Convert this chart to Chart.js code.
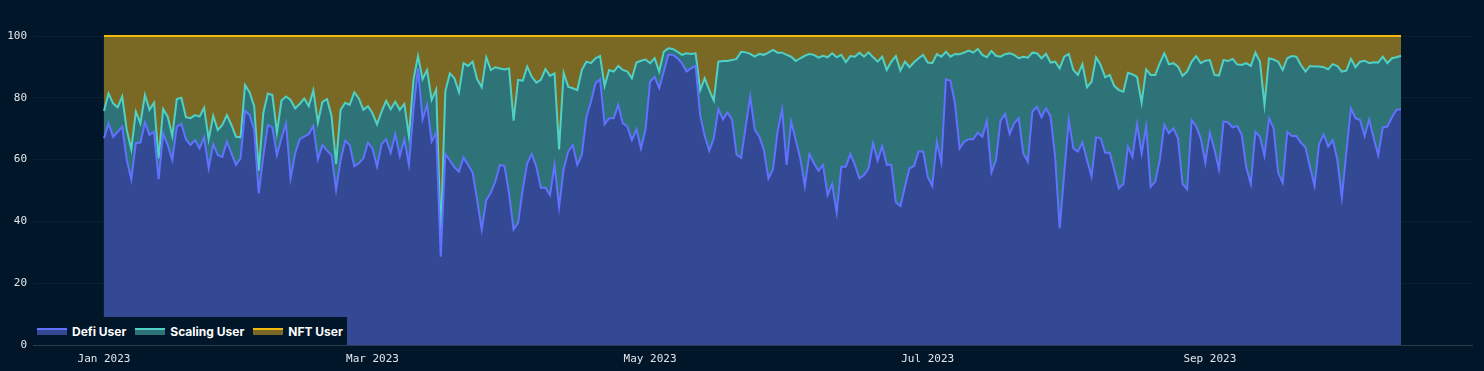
<!DOCTYPE html>
<html>
<head>
<meta charset="utf-8">
<title>User share</title>
<script src="https://cdn.jsdelivr.net/npm/chart.js@4.4.0/dist/chart.umd.min.js"></script>
<style>
  html, body { margin: 0; padding: 0; background: #011629; }
  #wrap { position: relative; width: 1484px; height: 371px; }
  #legend {
    position: absolute; left: 31px; top: 317px; height: 28px; padding: 0 4px 0 6px;
    background: #011629; display: flex; align-items: center;
    font: 700 12px Inter, "Noto Sans", sans-serif; color: #fff;
  }
  #legend .item { display: flex; align-items: center; margin-right: 9px; }
  #legend .item:last-child { margin-right: 0; }
  #legend .sw { width: 30px; height: 5px; margin-right: 5px; border-top: 2px solid; }
</style>
</head>
<body>
<div id="wrap">
  <canvas id="chart" width="1484" height="371"></canvas>
  <div id="legend"></div>
</div>
<script>
// daily share (%) from 1 Jan 2023
var defi = [
  66.9, 71.7, 67.4, 69.0, 70.7, 59.9, 53.6, 65.3, 65.5, 72.0, 68.0, 69.0, 53.7, 68.5, 64.7, 59.9, 70.7, 71.5, 66.6, 64.7, 66.3, 63.6, 67.2, 57.2, 65.0, 61.5, 60.9, 65.8, 62.0,
  58.3, 60.4, 75.8, 74.4, 69.6, 49.1, 61.0, 71.2, 70.4, 61.5, 66.9, 71.7, 53.9, 62.0, 66.6, 67.4, 68.3, 70.9, 60.1, 64.7, 62.9, 61.5, 50.2, 59.9, 66.1, 64.7, 57.9, 58.8, 60.4,
  65.5, 63.6, 57.7, 65.0, 66.6, 62.2, 68.3, 61.2, 66.6, 58.3, 76.1, 89.5, 73.0, 77.7, 65.8, 68.7, 28.6, 61.8, 59.7, 57.5, 56.1, 60.7, 58.3, 55.8, 46.9, 37.4, 46.9, 49.3,
  52.9, 58.3, 57.9, 49.1, 37.4, 39.6, 50.2, 58.8, 61.8, 57.7, 50.9, 50.9, 48.5, 58.3, 44.6, 56.9, 62.6, 64.7, 58.3, 61.5, 73.7, 78.7, 84.7, 86.0, 71.4, 73.4, 73.4, 77.7, 71.7,
  70.7, 66.3, 69.8, 63.6, 69.8, 85.2, 86.8, 83.1, 88.5, 93.9, 93.9, 92.8, 91.2, 88.5, 89.5, 90.3, 74.4, 67.6, 62.9, 66.9, 76.3, 73.0, 75.2, 73.0, 61.5, 60.6, 70.7, 80.4, 69.6,
  67.4, 63.1, 53.9, 56.9, 69.0, 76.3, 58.3, 72.3, 66.3, 60.4, 51.5, 61.8, 58.8, 56.4, 58.3, 48.5, 52.1, 42.8, 57.7, 57.7, 61.8, 58.3, 53.9, 55.0, 57.2, 65.3, 59.7, 64.4,
  58.3, 58.3, 46.1, 45.0, 51.2, 57.2, 57.9, 62.6, 62.6, 54.5, 51.5, 65.8, 59.1, 86.0, 85.5, 78.0, 63.6, 65.8, 66.6, 66.6, 68.7, 67.4, 72.6, 55.8, 59.9, 72.6, 74.8, 68.3, 71.7,
  73.4, 62.0, 59.3, 75.5, 77.1, 73.7, 76.6, 73.9, 60.9, 37.8, 55.6, 72.8, 63.6, 62.6, 65.5, 59.9, 54.5, 67.2, 66.9, 62.2, 62.2, 56.6, 50.7, 52.1, 64.2, 60.9, 71.5, 62.0,
  70.7, 51.2, 52.9, 59.9, 71.2, 68.5, 70.1, 66.9, 52.1, 50.4, 72.8, 70.7, 66.9, 59.0, 68.7, 63.3, 56.9, 72.3, 72.0, 70.4, 70.9, 68.0, 57.5, 52.1, 69.0, 67.4, 61.2, 73.4, 70.1,
  55.8, 52.5, 69.0, 67.6, 67.6, 65.5, 64.0, 57.7, 51.5, 65.0, 68.2, 64.2, 66.3, 60.1, 47.8, 62.6, 76.6, 73.4, 72.8, 67.6, 73.0, 66.9, 61.5, 70.4, 70.7, 73.7, 76.1, 76.3
];
var scaling = [
  8.8, 9.7, 10.8, 7.9, 9.7, 9.7, 9.7, 10.2, 6.2, 8.9, 8.1, 9.4, 6.7, 7.9, 9.2, 7.7, 8.9, 8.5, 7.1, 8.7, 8.1, 10.3, 9.6, 9.3, 9.2, 8.1, 10.3, 8.6, 9.2,
  9.1, 6.8, 8.3, 7.3, 7.7, 7.3, 14.0, 10.2, 10.5, 7.2, 12.2, 8.7, 25.4, 14.6, 11.4, 12.4, 9.0, 11.5, 11.9, 14.0, 16.7, 12.6, 8.4, 16.2, 12.3, 13.0, 23.9, 21.0, 15.7,
  11.8, 11.4, 13.7, 10.5, 12.4, 14.1, 10.4, 14.9, 11.4, 9.3, 9.7, 4.0, 13.0, 11.3, 13.5, 14.0, 6.5, 20.2, 28.2, 28.8, 25.7, 30.5, 32.0, 35.9, 39.1, 46.0, 46.2, 39.7,
  37.0, 31.2, 31.3, 40.4, 35.2, 46.2, 35.3, 31.3, 25.0, 27.2, 34.9, 38.4, 38.6, 29.6, 18.7, 31.2, 21.0, 18.4, 24.2, 27.5, 18.0, 12.5, 8.1, 7.5, 12.4, 15.6, 15.1, 12.6, 17.3,
  17.8, 20.0, 21.6, 28.4, 22.6, 6.0, 6.0, 5.4, 6.4, 2.1, 1.9, 2.1, 2.7, 5.9, 4.7, 4.1, 8.1, 18.7, 19.6, 12.2, 15.4, 18.9, 16.7, 19.2, 31.1, 34.3, 24.0, 13.8, 23.7,
  26.8, 30.8, 40.7, 38.6, 25.6, 18.3, 35.6, 21.0, 25.6, 32.4, 42.1, 32.4, 35.1, 36.6, 35.3, 44.6, 42.3, 50.3, 36.2, 33.8, 31.7, 35.0, 40.7, 38.3, 37.5, 27.8, 32.0, 28.9,
  30.7, 33.4, 47.4, 43.8, 40.5, 32.7, 33.6, 30.2, 31.3, 36.9, 39.7, 28.3, 34.2, 8.9, 7.8, 16.2, 30.5, 28.8, 28.7, 28.0, 27.1, 26.5, 20.5, 39.3, 33.7, 20.7, 19.3, 26.1, 22.2,
  19.4, 31.3, 33.7, 19.1, 17.3, 19.1, 17.6, 17.5, 30.8, 51.7, 37.7, 21.4, 25.4, 24.8, 25.4, 23.5, 30.7, 25.9, 23.7, 24.4, 25.2, 27.2, 31.8, 29.9, 23.9, 26.7, 15.3, 16.4,
  18.5, 36.2, 34.5, 31.3, 23.2, 22.3, 21.1, 23.2, 35.0, 38.1, 18.9, 22.8, 24.3, 33.0, 23.5, 24.1, 30.3, 19.9, 19.9, 22.2, 19.9, 22.6, 33.7, 38.2, 25.6, 24.3, 16.5, 19.4, 22.3,
  35.9, 36.5, 23.8, 25.9, 25.7, 25.1, 24.5, 32.6, 38.6, 25.1, 21.7, 25.0, 24.6, 30.2, 40.7, 26.2, 16.0, 16.5, 18.9, 24.4, 18.2, 24.6, 29.9, 22.9, 20.5, 19.1, 17.0, 17.3
];
var nft = [
  24.3, 18.6, 21.8, 23.1, 19.6, 30.4, 36.7, 24.5, 28.3, 19.1, 23.9, 21.6, 39.6, 23.6, 26.1, 32.4, 20.4, 20.0, 26.3, 26.6, 25.6, 26.1, 23.2, 33.5, 25.8, 30.4, 28.8, 25.6, 28.8,
  32.6, 32.8, 15.9, 18.3, 22.7, 43.6, 25.0, 18.6, 19.1, 31.3, 20.9, 19.6, 20.7, 23.4, 22.0, 20.2, 22.7, 17.6, 28.0, 21.3, 20.4, 25.9, 41.4, 23.9, 21.6, 22.3, 18.2, 20.2, 23.9,
  22.7, 25.0, 28.6, 24.5, 21.0, 23.7, 21.3, 23.9, 22.0, 32.4, 14.2, 6.5, 14.0, 11.0, 20.7, 17.3, 64.9, 18.0, 12.1, 13.7, 18.2, 8.8, 9.7, 8.3, 14.0, 16.6, 6.9, 11.0,
  10.1, 10.5, 10.8, 10.5, 27.4, 14.2, 14.5, 9.9, 13.2, 15.1, 14.2, 10.7, 12.9, 12.1, 36.7, 11.9, 16.4, 16.9, 17.5, 11.0, 8.3, 8.8, 7.2, 6.5, 16.2, 11.0, 11.5, 9.7, 11.0,
  11.5, 13.7, 8.6, 8.0, 7.6, 8.8, 7.2, 11.5, 5.1, 4.0, 4.2, 5.1, 6.1, 5.6, 5.8, 5.6, 17.5, 13.7, 17.5, 20.9, 8.3, 8.1, 8.1, 7.8, 7.4, 5.1, 5.3, 5.8, 6.7,
  5.8, 6.1, 5.4, 4.5, 5.4, 5.4, 6.1, 6.7, 8.1, 7.2, 6.4, 5.8, 6.1, 7.0, 6.4, 6.9, 5.6, 6.9, 6.1, 8.5, 6.5, 6.7, 5.4, 6.7, 5.3, 6.9, 8.3, 6.7,
  11.0, 8.3, 6.5, 11.2, 8.3, 10.1, 8.5, 7.2, 6.1, 8.6, 8.8, 5.9, 6.7, 5.1, 6.7, 5.8, 5.9, 5.4, 4.7, 5.4, 4.2, 6.1, 6.9, 4.9, 6.4, 6.7, 5.9, 5.6, 6.1,
  7.2, 6.7, 7.0, 5.4, 5.6, 7.2, 5.8, 8.6, 8.3, 10.5, 6.7, 5.8, 11.0, 12.6, 9.1, 16.6, 14.8, 6.9, 9.4, 13.4, 12.6, 16.2, 17.5, 18.0, 11.9, 12.4, 13.2, 21.6,
  10.8, 12.6, 12.6, 8.8, 5.6, 9.2, 8.8, 9.9, 12.9, 11.5, 8.3, 6.5, 8.8, 8.0, 7.8, 12.6, 12.8, 7.8, 8.1, 7.4, 9.2, 9.4, 8.8, 9.7, 5.4, 8.3, 22.3, 7.2, 7.6,
  8.3, 11.0, 7.2, 6.5, 6.7, 9.4, 11.5, 9.7, 9.9, 9.9, 10.1, 10.8, 9.1, 9.7, 11.5, 11.2, 7.4, 10.1, 8.3, 8.0, 8.8, 8.5, 8.6, 6.7, 8.8, 7.2, 6.9, 6.4
];

var seriesNames = ['Defi User', 'Scaling User', 'NFT User'];
// x ticks: day index since 1 Jan 2023
var tickDays = [0, 59, 120, 181, 243];
var tickLabels = ['Jan 2023', 'Mar 2023', 'May 2023', 'Jul 2023', 'Sep 2023'];
var yTicks = [0, 20, 40, 60, 80, 100];

var lineColors = ['#6072ff', '#4fd1c5', '#f0b90b'];
var fillColors = ['#334994', '#2e7378', '#7a6925'];

function toPoints(arr) {
  return arr.map(function (v, i) { return { x: i, y: v }; });
}

var series = [defi, scaling, nft];
var datasets = series.map(function (arr, k) {
  return {
    label: seriesNames[k],
    data: toPoints(arr),
    borderColor: lineColors[k],
    backgroundColor: fillColors[k],
    fill: k === 0 ? 'origin' : '-1',
    borderWidth: 2,
    pointRadius: 0,
    tension: 0,
    clip: false
  };
});

var monoFont = { family: '"DejaVu Sans Mono", monospace', size: 11 };

new Chart(document.getElementById('chart'), {
  type: 'line',
  data: { datasets: datasets },
  options: {
    responsive: false,
    animation: false,
    layout: { padding: { top: 36, right: 12, bottom: 0, left: 0 } },
    plugins: { legend: { display: false }, tooltip: { enabled: false } },
    scales: {
      x: {
        type: 'linear',
        min: -15.6,
        max: 300.6,
        afterBuildTicks: function (s) { s.ticks = tickDays.map(function (v) { return { value: v }; }); },
        afterFit: function (s) { s.height = 26; },
        ticks: {
          autoSkip: false, maxRotation: 0, color: '#e3e6ea', font: monoFont, padding: 8,
          callback: function (v, i) { return tickLabels[i]; }
        },
        grid: { color: 'rgba(255,255,255,0.035)', drawTicks: false },
        border: { color: '#2d3a47' }
      },
      y: {
        stacked: true,
        min: 0,
        max: 100,
        afterBuildTicks: function (s) { s.ticks = yTicks.map(function (v) { return { value: v }; }); },
        afterFit: function (s) { s.width = 33; },
        ticks: { color: '#e3e6ea', font: monoFont, padding: 6 },
        grid: { color: 'rgba(255,255,255,0.035)', drawTicks: false },
        border: { display: false }
      }
    }
  }
});

var legend = document.getElementById('legend');
seriesNames.forEach(function (name, k) {
  var item = document.createElement('div');
  item.className = 'item';
  var sw = document.createElement('span');
  sw.className = 'sw';
  sw.style.background = fillColors[k];
  sw.style.borderTopColor = lineColors[k];
  var txt = document.createElement('span');
  txt.textContent = name;
  item.appendChild(sw);
  item.appendChild(txt);
  legend.appendChild(item);
});
</script>
</body>
</html>
